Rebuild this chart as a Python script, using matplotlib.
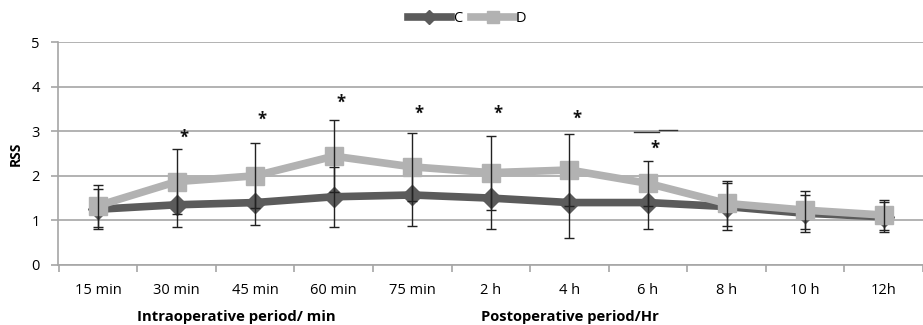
import matplotlib
matplotlib.use("Agg")
import matplotlib.pyplot as plt
import numpy as np

categories = ["15 min", "30 min", "45 min", "60 min", "75 min", "2 h", "4 h", "6 h", "8 h", "10 h", "12h"]
C_mean = [1.25, 1.35, 1.40, 1.53, 1.57, 1.50, 1.40, 1.40, 1.31, 1.16, 1.08]
C_sd   = [0.45, 0.50, 0.50, 0.67, 0.70, 0.69, 0.80, 0.60, 0.53, 0.41, 0.33]
D_mean = [1.33, 1.87, 2.00, 2.44, 2.20, 2.07, 2.13, 1.83, 1.38, 1.23, 1.12]
D_sd   = [0.47, 0.72, 0.73, 0.81, 0.77, 0.83, 0.81, 0.50, 0.50, 0.43, 0.33]
star_idx = [1, 2, 3, 4, 5, 6, 7]
star_y   = [2.86, 3.25, 3.64, 3.39, 3.40, 3.27, 2.60]
yticks = [0, 1, 2, 3, 4, 5]

font = ["Open Sans", "DejaVu Sans"]
plt.rcParams["font.family"] = font

fig = plt.figure(figsize=(9.23, 3.25), dpi=100)
ax = fig.add_axes([58/923, 60/325, (923-58)/923, (265-42)/325])

x = np.arange(len(categories))
cC = "#5b5b5b"
cD = "#b2b2b2"

ax.set_ylim(0, 5)
ax.set_xlim(-0.51, 10.42)
ax.set_yticks(yticks)
ax.yaxis.grid(True, color="#a6a6a6", lw=1.2)
ax.set_axisbelow(True)

ax.plot(x, C_mean, color=cC, lw=5.5, marker="D", ms=10, mec=cC, mfc=cC, zorder=3, label="C")
ax.errorbar(x, C_mean, yerr=C_sd, fmt="none", ecolor="#222222", elinewidth=1, capsize=3.3, capthick=1, zorder=3.5)
ax.plot(x, D_mean, color=cD, lw=5.5, marker="s", ms=12.5, mec=cD, mfc=cD, zorder=4, label="D")
ax.errorbar(x, D_mean, yerr=D_sd, fmt="none", ecolor="#222222", elinewidth=1, capsize=3.3, capthick=1, zorder=5)

for i, yv in zip(star_idx, star_y):
    ax.text(i + 0.09, yv, "*", ha="center", va="center", fontsize=12, fontweight="bold", color="#111111")

# stray line segment near 6 h
ax.plot([6.82, 7.14], [2.99, 2.99], color="#333333", lw=1, zorder=2)
ax.plot([7.14, 7.37], [3.02, 3.02], color="#333333", lw=1, zorder=2)

for s in ["top", "right"]:
    ax.spines[s].set_visible(False)
ax.spines["left"].set_color("#a6a6a6")
ax.spines["bottom"].set_color("#a6a6a6")
ax.spines["left"].set_linewidth(1.2)
ax.spines["bottom"].set_linewidth(1.2)

ax.set_xticks(x)
ax.set_xticklabels(categories, fontsize=10.5)
ax.tick_params(axis="x", length=0, pad=13)
ax.set_xticks(np.arange(-0.5, 10.6, 1.0), minor=True)
ax.tick_params(axis="x", which="minor", length=5, color="#a6a6a6", width=1.2)
ax.tick_params(axis="y", length=5, color="#a6a6a6", width=1.2, labelsize=10.5, pad=8)

ax.set_ylabel("RSS", fontsize=10, fontweight="bold", labelpad=6)

ax.text(0.50, -0.235, "Intraoperative period/ min", transform=ax.get_xaxis_transform(),
        ha="left", va="center", fontsize=10.7, fontweight="bold")
ax.text(4.87, -0.235, "Postoperative period/Hr", transform=ax.get_xaxis_transform(),
        ha="left", va="center", fontsize=10.6, fontweight="bold")

fig.legend(loc="center", bbox_to_anchor=(467/923, 1 - 19/325), ncol=2, frameon=False,
           fontsize=10.5, handlelength=3.0, handletextpad=0.1, columnspacing=0.6,
           markerscale=0.7)

fig.savefig("out.png", dpi=100)
